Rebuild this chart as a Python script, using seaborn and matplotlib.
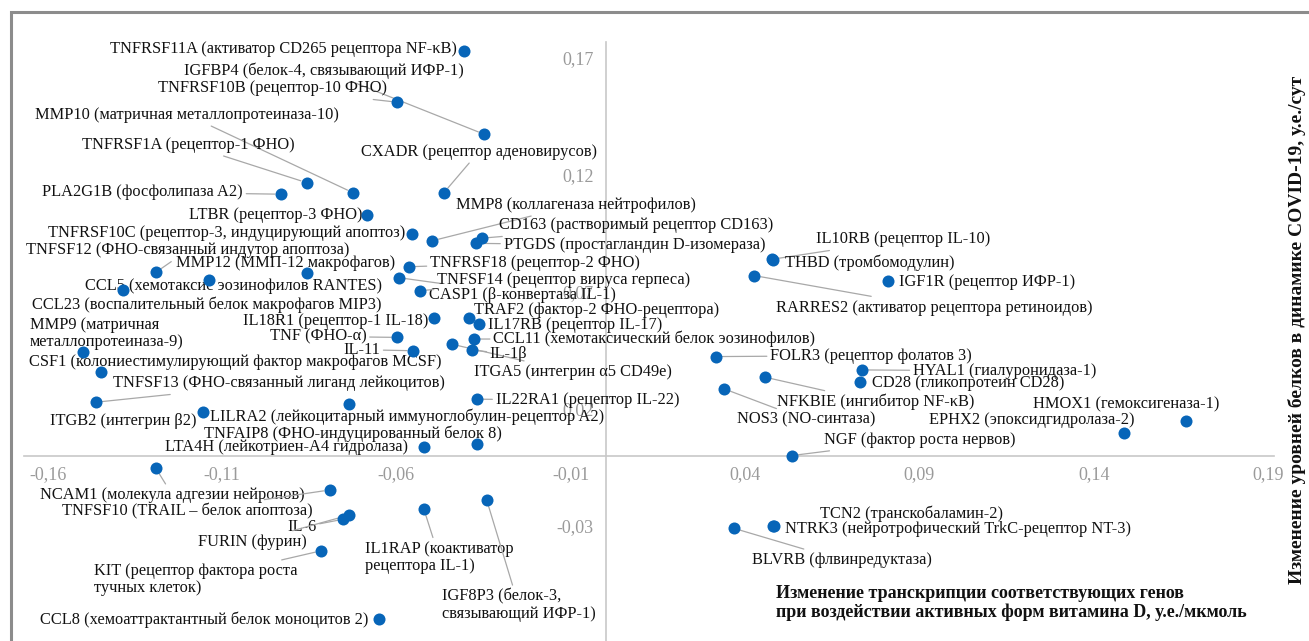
import numpy as np
import pandas as pd
import matplotlib
matplotlib.use("Agg")
import matplotlib.pyplot as plt
from matplotlib.patches import Rectangle
from matplotlib.ticker import FixedLocator, FuncFormatter
import seaborn as sns

# ---------------- data ----------------
genes = ["TNFRSF11A", "IGFBP4", "TNFRSF10B", "MMP10", "TNFRSF1A", "PLA2G1B", "CXADR", "LTBR",
         "MMP8", "CD163", "PTGDS", "TNFRSF10C", "TNFSF12", "MMP12", "CCL5", "CCL23",
         "TNFRSF18", "CASP1", "TNFSF14", "IL18R1", "TNF", "IL-11", "ITGA5", "TRAF2",
         "IL17RB", "CCL11", "IL-1β", "MMP9", "CSF1", "TNFSF13", "ITGB2", "LILRA2",
         "TNFAIP8", "LTA4H", "IL22RA1", "NCAM1", "TNFSF10", "IL-6", "FURIN", "KIT",
         "IL1RAP", "IGF8P3", "CCL8", "IL10RB", "THBD", "IGF1R", "RARRES2", "FOLR3",
         "HYAL1", "CD28", "NFKBIE", "NOS3", "HMOX1", "EPHX2", "NGF", "TCN2", "NTRK3", "BLVRB"]

labels = ["TNFRSF11A (активатор CD265 рецептора NF-κB)",
          "IGFBP4 (белок-4, связывающий ИФР-1)",
          "TNFRSF10B (рецептор-10 ФНО)",
          "MMP10 (матричная металлопротеиназа-10)",
          "TNFRSF1A (рецептор-1 ФНО)",
          "PLA2G1B (фосфолипаза A2)",
          "CXADR (рецептор аденовирусов)",
          "LTBR (рецептор-3 ФНО)",
          "MMP8 (коллагеназа нейтрофилов)",
          "CD163 (растворимый рецептор CD163)",
          "PTGDS (простагландин D-изомераза)",
          "TNFRSF10C (рецептор-3, индуцирующий апоптоз)",
          "TNFSF12 (ФНО-связанный индутор апоптоза)",
          "MMP12 (ММП-12 макрофагов)",
          "CCL5 (хемотаксис эозинофилов RANTES)",
          "CCL23 (воспалительный белок макрофагов MIP3)",
          "TNFRSF18 (рецептор-2 ФНО)",
          "CASP1 (β-конвертаза IL-1)",
          "TNFSF14 (рецептор вируса герпеса)",
          "IL18R1 (рецептор-1 IL-18)",
          "TNF (ФНО-α)",
          "IL-11",
          "ITGA5 (интегрин α5 CD49e)",
          "TRAF2 (фактор-2 ФНО-рецептора)",
          "IL17RB (рецептор IL-17)",
          "CCL11 (хемотаксический белок эозинофилов)",
          "IL-1β",
          "MMP9 (матричная\nметаллопротеиназа-9)",
          "CSF1 (колониестимулирующий фактор макрофагов MCSF)",
          "TNFSF13 (ФНО-связанный лиганд лейкоцитов)",
          "ITGB2 (интегрин β2)",
          "LILRA2 (лейкоцитарный иммуноглобулин-рецептор A2)",
          "TNFAIP8 (ФНО-индуцированный белок 8)",
          "LTA4H (лейкотриен-A4 гидролаза)",
          "IL22RA1 (рецептор IL-22)",
          "NCAM1 (молекула адгезии нейронов)",
          "TNFSF10 (TRAIL – белок апоптоза)",
          "IL-6",
          "FURIN (фурин)",
          "KIT (рецептор фактора роста\nтучных клеток)",
          "IL1RAP (коактиватор\nрецептора IL-1)",
          "IGF8P3 (белок-3,\nсвязывающий ИФР-1)",
          "CCL8 (хемоаттрактантный белок моноцитов 2)",
          "IL10RB (рецептор IL-10)",
          "THBD (тромбомодулин)",
          "IGF1R (рецептор ИФР-1)",
          "RARRES2 (активатор рецептора ретиноидов)",
          "FOLR3 (рецептор фолатов 3)",
          "HYAL1 (гиалуронидаза-1)",
          "CD28 (гликопротеин CD28)",
          "NFKBIE (ингибитор NF-κB)",
          "NOS3 (NO-синтаза)",
          "HMOX1 (гемоксигеназа-1)",
          "EPHX2 (эпоксидгидролаза-2)",
          "NGF (фактор роста нервов)",
          "TCN2 (транскобаламин-2)",
          "NTRK3 (нейротрофический TrkC-рецептор NT-3)",
          "BLVRB (флвинредуктаза)"]

# change of gene transcription, a.u./µmol
x_transcription = [-0.0405, -0.0348, -0.0597, -0.0724, -0.0857, -0.0931, -0.0464, -0.0685,
                   -0.0497, -0.0355, -0.0373, -0.0556, -0.1290, -0.0857, -0.1385, -0.1137,
                   -0.0564, -0.0592, -0.0532, -0.0491, -0.0597, -0.0552, -0.0441, -0.0391,
                   -0.0363, -0.0377, -0.0384, -0.1500, -0.1447, -0.1462, -0.1156, -0.0736,
                   -0.0370, -0.0521, -0.0370, -0.1290, -0.0791, -0.0752, -0.0735, -0.0816,
                   -0.0521, -0.0341, -0.0649, 0.0478, 0.0481, 0.0811, 0.0427, 0.0317,
                   0.0735, 0.0730, 0.0457, 0.0340, 0.1665, 0.1487, 0.0534, 0.0484, 0.0481, 0.0368]
# change of protein level in COVID-19 dynamics, a.u./day
y_protein = [0.1730, 0.1374, 0.1511, 0.1124, 0.1167, 0.1118, 0.1124, 0.1029,
             0.0919, 0.0930, 0.0908, 0.0947, 0.0784, 0.0780, 0.0709, 0.0751,
             0.0808, 0.0761, 0.0706, 0.0588, 0.0506, 0.0449, 0.0477, 0.0590,
             0.0563, 0.0499, 0.0452, 0.0442, 0.0357, 0.0229, 0.0186, 0.0221,
             0.0049, 0.0039, 0.0242, -0.0053, -0.0146, -0.0271, -0.0253, -0.0406,
             -0.0229, -0.0189, -0.0699, 0.0840, 0.0837, 0.0747, 0.0770, 0.0424,
             0.0367, 0.0314, 0.0336, 0.0286, 0.0149, 0.0096, 0.0001, -0.0299, -0.0300, -0.0310]

x_tick_values = [-0.16, -0.11, -0.06, -0.01, 0.04, 0.09, 0.14, 0.19]
y_tick_values = [-0.03, 0.02, 0.07, 0.12, 0.17]
x_title = "Изменение транскрипции соответствующих генов\nпри воздействии активных форм витамина D, у.е./мкмоль"
y_title = "Изменение уровней белков в динамике COVID-19, у.е./сут"

# ---------------- layout (label offsets in pixels, alignment, leader line) ----------------
label_layout = {
    "TNFRSF11A": (-8, 2, "right", False), "IGFBP4": (-21, 64, "right", True),
    "TNFRSF10B": (-10, 14, "right", True), "MMP10": (-14, 78, "right", True),
    "TNFRSF1A": (-12, 38, "right", True), "PLA2G1B": (-38, 2, "right", True),
    "CXADR": (-83, 41, "left", True), "LTBR": (-4, 0, "right", False),
    "MMP8": (24, 36, "left", True), "CD163": (17, 13, "left", True),
    "PTGDS": (28, -2, "left", True), "TNFRSF10C": (-6, 1, "right", False),
    "TNFSF12": (-130, 22, "left", True), "MMP12": (-131, 10, "left", False),
    "CCL5": (-38, 4, "left", False), "CCL23": (-177, -25, "left", False),
    "TNFRSF18": (21, 4, "left", True), "CASP1": (30, -17, "left", True),
    "TNFSF14": (17, 11, "left", True), "IL18R1": (-6, -3, "right", False),
    "TNF": (-31, 1, "right", True), "IL-11": (-33, 1, "right", True),
    "ITGA5": (22, -28, "left", True), "TRAF2": (5, 8, "left", False),
    "IL17RB": (9, -1, "left", False), "CCL11": (19, 0, "left", True),
    "IL-1β": (18, -4, "left", True), "MMP9": (-53, 19, "left", False),
    "CSF1": (-72, 10, "left", False), "TNFSF13": (17, 19, "left", True),
    "ITGB2": (-6, -9, "right", False), "LILRA2": (-139, -13, "left", False),
    "TNFAIP8": (-273, 11, "left", False), "LTA4H": (-16, 0, "right", False),
    "IL22RA1": (19, -1, "left", True), "NCAM1": (149, -27, "right", True),
    "TNFSF10": (-17, -21, "right", True), "IL-6": (-27, -8, "right", True),
    "FURIN": (-43, -27, "right", True), "KIT": (-227, -29, "left", True),
    "IL1RAP": (-59, -48, "left", True), "IGF8P3": (-45, -105, "left", True),
    "CCL8": (-11, 0, "right", False), "IL10RB": (44, 20, "left", True),
    "THBD": (12, -3, "left", False), "IGF1R": (11, -1, "left", False),
    "RARRES2": (22, -32, "left", True), "FOLR3": (54, 1, "left", True),
    "HYAL1": (51, -1, "left", True), "CD28": (12, -1, "left", False),
    "NFKBIE": (12, -25, "left", True), "NOS3": (13, -31, "left", True),
    "HMOX1": (-153, 17, "left", False), "EPHX2": (-195, 13, "left", False),
    "NGF": (32, 16, "left", True), "TCN2": (46, 12, "left", False),
    "NTRK3": (12, -3, "left", False), "BLVRB": (18, -32, "left", True),
}

W, H, DPI = 1309, 641, 100
POINT_COLOR = "#0765b8"
AXIS_COLOR = "#c8c8c8"
LEADER_COLOR = "#a8a8a8"

sns.set_theme(style="white")
plt.rcParams["font.family"] = ["Liberation Serif", "DejaVu Serif"]

df = pd.DataFrame({"gene": genes, "label": labels, "x": x_transcription, "y": y_protein})

fig = plt.figure(figsize=(W / DPI, H / DPI), dpi=DPI)
ax = fig.add_axes([0, 0, 1, 1])
ax.set_facecolor("white")

sns.scatterplot(data=df, x="x", y="y", s=75, color=POINT_COLOR, linewidth=0,
                ax=ax, zorder=4, legend=False)

ax.set_xlim(-0.17369, 0.20174)
ax.set_ylim(-0.07915, 0.19479)

# centred axes
for side in ("top", "right"):
    ax.spines[side].set_visible(False)
ax.spines["left"].set_position(("data", 0))
ax.spines["bottom"].set_position(("data", 0))
ax.spines["left"].set_bounds(-0.0792, 0.1769)
ax.spines["bottom"].set_bounds(-0.1668, 0.1917)
for side in ("left", "bottom"):
    ax.spines[side].set_color(AXIS_COLOR)
    ax.spines[side].set_linewidth(1.2)

fmt = FuncFormatter(lambda v, p: f"{v:.2f}".replace(".", ","))
ax.xaxis.set_major_locator(FixedLocator(x_tick_values))
ax.xaxis.set_minor_locator(FixedLocator(np.arange(-0.16, 0.1901, 0.0125)))
ax.yaxis.set_major_locator(FixedLocator(y_tick_values))
ax.yaxis.set_minor_locator(FixedLocator(np.arange(-0.07, 0.1701, 0.01)))
ax.xaxis.set_major_formatter(fmt)
ax.yaxis.set_major_formatter(fmt)
ax.tick_params(axis="both", which="both", direction="out", length=4.5, width=1,
               color=AXIS_COLOR, labelcolor="#9a9a9a", labelsize=13)
ax.tick_params(axis="x", which="both", pad=3)
ax.tick_params(axis="y", which="both", pad=4)

# point labels with leader lines
for _, row in df.iterrows():
    dx, dy, ha, leader = label_layout[row["gene"]]
    kw = {}
    if leader:
        kw["arrowprops"] = dict(arrowstyle="-", color=LEADER_COLOR, lw=0.9,
                                shrinkA=0, shrinkB=4.5)
    ax.annotate(row["label"], xy=(row["x"], row["y"]), xytext=(dx, dy),
                textcoords="offset pixels", ha=ha, va="center", multialignment="left",
                fontsize=11.75, color="#111111", linespacing=1.1, zorder=3, **kw)

# axis titles
ax.set_xlabel(x_title, fontsize=13, fontweight="bold", ha="left", va="center",
              multialignment="left", linespacing=1.15, color="#111111")
ax.xaxis.set_label_coords(776.5 / W, 1 - 603 / H)
ax.yaxis.set_label_position("right")
ax.set_ylabel(y_title, fontsize=14, fontweight="bold", rotation=90, ha="center",
              va="center", color="#111111")
ax.yaxis.set_label_coords(1297 / W, 1 - 330 / H)

# outer frame (only top and left edges visible in the crop)
fig.add_artist(Rectangle((11 / W, -0.5), 2, 1.5 - 11.7 / H, transform=fig.transFigure,
                         fill=False, ec="#8c8c8c", lw=2.2, zorder=10))

fig.savefig("out.png", dpi=DPI)
